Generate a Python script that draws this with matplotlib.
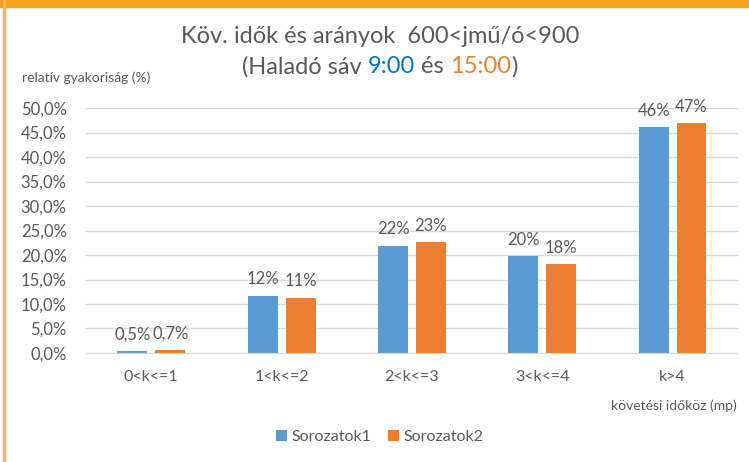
import numpy as np
import matplotlib.pyplot as plt
from matplotlib.patches import Rectangle

# Data
categories = ['0<k<=1', '1<k<=2', '2<k<=3', '3<k<=4', 'k>4']
series1 = [0.5, 11.7, 21.9, 19.7, 46.1]   # Sorozatok1 (9:00)
series2 = [0.7, 11.3, 22.6, 18.2, 46.9]   # Sorozatok2 (15:00)
yticks = [0, 5, 10, 15, 20, 25, 30, 35, 40, 45, 50]

blue = '#5b9bd5'
orange = '#ed7d31'
gray = '#595959'

plt.rcParams['font.family'] = ['Lato', 'DejaVu Sans']

fig = plt.figure(figsize=(7.49, 4.62), dpi=100)
ax = fig.add_axes([0.115, 0.236, 0.870, 0.530])

x = np.arange(len(categories))
w = 0.23
b1 = ax.bar(x - w / 2 - 0.03, series1, w, color=blue, label='Sorozatok1')
b2 = ax.bar(x + w / 2 + 0.03, series2, w, color=orange, label='Sorozatok2')

def fmt(v):
    if v < 1:
        return f'{v:.1f}%'.replace('.', ',')
    return f'{v:.0f}%'

for bars, vals in ((b1, series1), (b2, series2)):
    for r, v in zip(bars, vals):
        ax.annotate(fmt(v), (r.get_x() + r.get_width() / 2, v),
                    xytext=(0, 6), textcoords='offset points',
                    ha='center', va='bottom', fontsize=12, color=gray)

ax.set_xlim(-0.5, len(categories) - 0.5)
ax.set_ylim(0, 50)
ax.set_yticks(yticks)
ax.set_yticklabels([f'{t:.1f}%'.replace('.', ',') for t in yticks])
ax.set_xticks(x)
ax.set_xticklabels(categories)
ax.tick_params(axis='y', length=0, pad=14, labelsize=12, labelcolor=gray)
ax.tick_params(axis='x', length=0, pad=12, labelsize=11.5, labelcolor=gray)
ax.grid(axis='y', color='#d9d9d9', linewidth=1)
ax.set_axisbelow(True)
for s in ['top', 'right', 'left']:
    ax.spines[s].set_visible(False)
ax.spines['bottom'].set_color('#d9d9d9')

# Titles
fig.text(0.507, 0.92, 'Köv. idők és arányok  600<jmű/ó<900',
         ha='center', va='center', fontsize=17, color=gray)

parts = [('(Haladó sáv ', gray), ('9:00', '#0070c0'), (' és ', gray),
         ('15:00', orange), (')', gray)]
fig.canvas.draw()
r = fig.canvas.get_renderer()
texts = []
for s, c in parts:
    t = fig.text(0, 0.855, s, ha='left', va='center', fontsize=17, color=c)
    texts.append(t)
widths = [t.get_window_extent(r).width for t in texts]
total = sum(widths)
xpix = 0.507 * fig.bbox.width - total / 2
for t, wd in zip(texts, widths):
    t.set_x(xpix / fig.bbox.width)
    xpix += wd

fig.text(0.03, 0.832, 'relatív gyakoriság (%)', ha='left', va='center',
         fontsize=10, color=gray)
fig.text(0.984, 0.121, 'követési időköz (mp)', ha='right', va='center',
         fontsize=10, color=gray)

fig.legend(loc='center', bbox_to_anchor=(0.507, 0.054), ncol=2, frameon=False,
           fontsize=11.5, handlelength=0.7, handleheight=0.7,
           handletextpad=0.3, columnspacing=1.0, labelcolor=gray)

# Orange frame at top and left
fig.patches.append(Rectangle((0, 0.985), 1, 0.015, transform=fig.transFigure,
                             color='#f7a11e', zorder=0))
fig.patches.append(Rectangle((0.004, 0), 0.003, 1, transform=fig.transFigure,
                             color='#f9b552', zorder=0))

fig.savefig('out.png', dpi=100)
